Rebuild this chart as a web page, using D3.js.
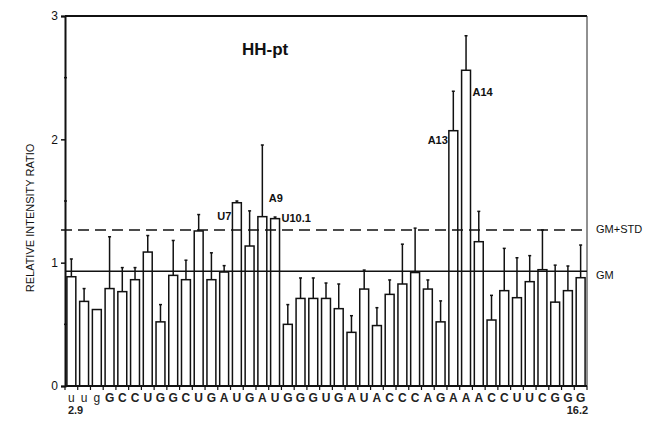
<!DOCTYPE html>
<html>
<head>
<meta charset="utf-8">
<script src="https://cdn.jsdelivr.net/npm/d3@7"></script>
<style>
  body { margin: 0; background: #fff; }
  svg { font-family: "Liberation Sans", Arial, sans-serif; }
</style>
</head>
<body>
<div id="chart"></div>
<script>
// sequence positions (lowercase = flanking)
const bases = ['u', 'u', 'g', 'G', 'C', 'C', 'U', 'G', 'G', 'C', 'U', 'G', 'A', 'U', 'G', 'A', 'U', 'G', 'G', 'G',
  'U', 'G', 'A', 'U', 'A', 'C', 'C', 'C', 'A', 'G', 'A', 'A', 'A', 'C', 'C', 'U', 'U', 'C', 'G', 'G', 'G']

const ratios = [0.886, 0.686, 0.62, 0.79, 0.765, 0.862, 1.086, 0.52, 0.897, 0.862,
  1.257, 0.862, 0.924, 1.486, 1.135, 1.373, 1.357, 0.5, 0.71, 0.71,
  0.71, 0.627, 0.435, 0.786, 0.49, 0.743, 0.827, 0.92, 0.786, 0.52,
  2.07, 2.56, 1.17, 0.535, 0.773, 0.716, 0.846, 0.943, 0.68, 0.773, 0.878]

const stds = [0.144, 0.104, 0, 0.42, 0.195, 0.098, 0.134, 0.14, 0.283, 0.158,
  0.133, 0.218, 0.052, 0.014, 0.285, 0.581, 0.013, 0.16, 0.166, 0.166,
  0.125, 0.2, 0.135, 0.154, 0.145, 0.117, 0.323, 0.36, 0.074, 0.17,
  0.32, 0.28, 0.246, 0.2, 0.343, 0.324, 0.211, 0.322, 0.3, 0.2, 0.265]

const yTicks = [0, 1, 2, 3]
const yMinorTicks = [0.5, 1.5, 2.5]

const gm = 0.93
const gmStd = 1.265

// labelled peaks: index into bases, which side of the bar, level of text
const peaks = [
  { i: 13, text: 'U7', side: 'left', level: 1.35 },
  { i: 15, text: 'A9', side: 'right', level: 1.49 },
  { i: 16, text: 'U10.1', side: 'right', level: 1.33 },
  { i: 30, text: 'A13', side: 'left', level: 1.96 },
  { i: 31, text: 'A14', side: 'right', level: 2.35 },
]

const width = 661
const height = 424
const margin = { top: 16, right: 74, bottom: 38, left: 65 }

const svg = d3.select('#chart')
  .append('svg')
  .attr('width', width)
  .attr('height', height)

const x = d3.scaleBand()
  .domain(d3.range(bases.length))
  .range([margin.left, width - margin.right])
  .paddingInner(0.3)
  .paddingOuter(0.15)

const y = d3.scaleLinear()
  .domain([0, 3])
  .range([height - margin.bottom, margin.top])

const x0 = margin.left
const x1 = width - margin.right
const step = x.step()

// frame top and right
svg.append('line')
  .attr('x1', x0).attr('x2', x1)
  .attr('y1', y(3)).attr('y2', y(3))
  .attr('stroke', '#111').attr('stroke-width', 2)
svg.append('line')
  .attr('x1', x1).attr('x2', x1)
  .attr('y1', y(3)).attr('y2', y(0))
  .attr('stroke', '#222').attr('stroke-width', 1)

// bars
svg.append('g')
  .selectAll('rect')
  .data(ratios)
  .join('rect')
  .attr('x', (d, i) => x(i))
  .attr('y', d => y(d))
  .attr('width', x.bandwidth())
  .attr('height', d => y(0) - y(d))
  .attr('fill', '#fff')
  .attr('stroke', '#111')
  .attr('stroke-width', 1.5)

// error bars (upper only)
const err = svg.append('g').attr('stroke', '#111').attr('stroke-width', 1.5)
ratios.forEach((v, i) => {
  if (!stds[i]) return
  const cx = x(i) + x.bandwidth() / 2
  err.append('line')
    .attr('x1', cx).attr('x2', cx)
    .attr('y1', y(v)).attr('y2', y(v + stds[i]))
  err.append('line')
    .attr('x1', cx - 1.5).attr('x2', cx + 1.5)
    .attr('y1', y(v + stds[i])).attr('y2', y(v + stds[i]))
})

// GM and GM+STD lines
svg.append('line')
  .attr('x1', x0).attr('x2', x1)
  .attr('y1', y(gm)).attr('y2', y(gm))
  .attr('stroke', '#111').attr('stroke-width', 1.5)
svg.append('line')
  .attr('x1', x0 - 4).attr('x2', x1)
  .attr('y1', y(gmStd)).attr('y2', y(gmStd))
  .attr('stroke', '#111').attr('stroke-width', 1.5)
  .attr('stroke-dasharray', '11,6')

svg.append('text')
  .attr('x', x1 + 9).attr('y', y(gmStd) + 3)
  .attr('font-size', 11).attr('fill', '#111')
  .text('GM+STD')
svg.append('text')
  .attr('x', x1 + 9).attr('y', y(gm) + 8)
  .attr('font-size', 11).attr('fill', '#111')
  .text('GM')

// y axis
const yAxis = svg.append('g')
  .attr('transform', `translate(${x0},0)`)
  .call(d3.axisLeft(y).tickValues(yTicks).tickFormat(d3.format('d')).tickSize(4).tickPadding(3))
yAxis.select('.domain').attr('stroke', '#111').attr('stroke-width', 2)
yAxis.selectAll('.tick line').attr('stroke', '#111').attr('stroke-width', 1.5)
yAxis.selectAll('.tick text').attr('font-size', 12).attr('fill', '#111')
  .attr('font-family', '"Liberation Sans", Arial, sans-serif')

svg.append('g')
  .selectAll('line')
  .data(yMinorTicks)
  .join('line')
  .attr('x1', x0 - 1).attr('x2', x0 + 2)
  .attr('y1', d => y(d)).attr('y2', d => y(d))
  .attr('stroke', '#111').attr('stroke-width', 1.5)

// x baseline with ticks at band boundaries
svg.append('line')
  .attr('x1', x0).attr('x2', x1)
  .attr('y1', y(0)).attr('y2', y(0))
  .attr('stroke', '#111').attr('stroke-width', 2)
svg.append('g')
  .selectAll('line')
  .data(d3.range(bases.length + 1))
  .join('line')
  .attr('x1', i => x0 + i * step).attr('x2', i => x0 + i * step)
  .attr('y1', y(0)).attr('y2', y(0) + 4)
  .attr('stroke', '#111').attr('stroke-width', 1.2)

// base letters
svg.append('g')
  .selectAll('text')
  .data(bases)
  .join('text')
  .attr('x', (d, i) => x(i) + x.bandwidth() / 2)
  .attr('y', y(0) + 16)
  .attr('text-anchor', 'middle')
  .attr('font-size', 12)
  .attr('font-weight', d => (d === d.toUpperCase() ? 'bold' : 'normal'))
  .attr('fill', '#222')
  .text(d => d)

svg.append('text')
  .attr('x', x(0) + 1).attr('y', y(0) + 28)
  .attr('font-size', 11).attr('font-weight', 'bold').attr('fill', '#222')
  .text('2.9')
svg.append('text')
  .attr('x', x(bases.length - 1) + x.bandwidth() + 3).attr('y', y(0) + 28)
  .attr('text-anchor', 'end')
  .attr('font-size', 11).attr('font-weight', 'bold').attr('fill', '#222')
  .text('16.2')

// y label
svg.append('text')
  .attr('transform', `translate(34,${(y(0) + y(3)) / 2 + 17}) rotate(-90)`)
  .attr('text-anchor', 'middle')
  .attr('font-size', 11)
  .attr('fill', '#111')
  .text('RELATIVE INTENSITY RATIO')

// title
svg.append('text')
  .attr('x', 242).attr('y', 55)
  .attr('font-size', 17).attr('font-weight', 'bold').attr('fill', '#111')
  .text('HH-pt')

// peak labels
svg.append('g')
  .selectAll('text')
  .data(peaks)
  .join('text')
  .attr('x', d => (d.side === 'left' ? x(d.i) - 1 : x(d.i) + x.bandwidth() + 2))
  .attr('y', d => y(d.level))
  .attr('text-anchor', d => (d.side === 'left' ? 'end' : 'start'))
  .attr('font-size', 11)
  .attr('font-weight', 'bold')
  .attr('fill', '#111')
  .text(d => d.text)
</script>
</body>
</html>
